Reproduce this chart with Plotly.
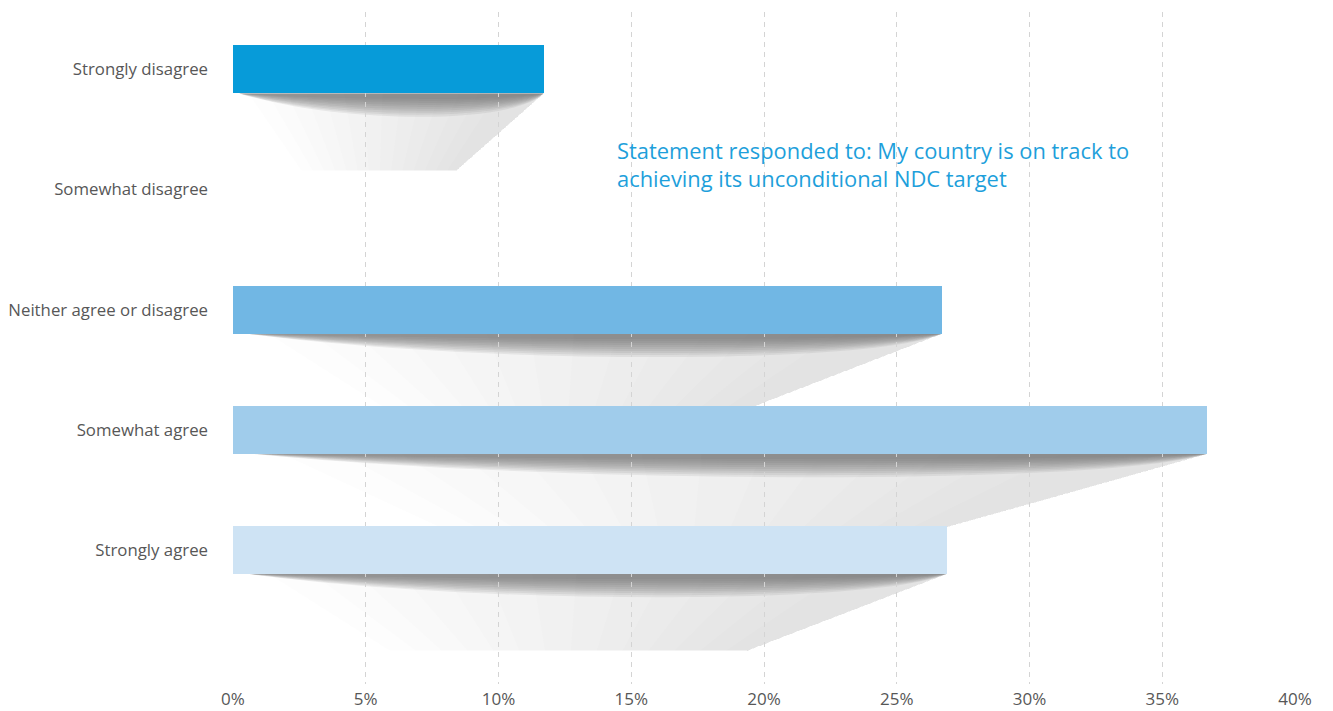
import plotly.graph_objects as go

categories = ["Strongly disagree", "Somewhat disagree", "Neither agree or disagree",
              "Somewhat agree", "Strongly agree"]
values = [11.7, 0.0, 26.7, 36.7, 26.9]
bar_colors = ["#079BD9", "#079BD9", "#71B7E4", "#A0CCEB", "#CEE3F4"]
x_tick_vals = [0, 5, 10, 15, 20, 25, 30, 35, 40]
x_tick_text = ["0%", "5%", "10%", "15%", "20%", "25%", "30%", "35%", "40%"]
note_text = "Statement responded to: My country is on track to<br>achieving its unconditional NDC target"

positions = list(range(len(categories)))
BAR_W = 0.4
FONT = "Open Sans, Noto Sans, sans-serif"

fig = go.Figure()
fig.add_trace(go.Bar(
    x=values, y=positions, orientation="h", width=BAR_W,
    marker=dict(color=bar_colors, line=dict(width=0)),
    hoverinfo="x+y",
))

shapes = []
for pos, v in zip(positions, values):
    if v <= 0:
        continue
    yb = pos + BAR_W / 2
    depth = 0.64
    # light trapezoid shadow with a soft left-to-right gradient (layered)
    n = 14
    for k in range(n):
        f = k / (n - 1)
        lt = v * (0.05 + 0.8 * f)
        lb = v * (0.22 + 0.47 * f)
        shapes.append(dict(
            type="path", xref="x", yref="y", layer="below",
            path=f"M {lt},{yb} L {v},{yb} L {v*0.72},{yb+depth} L {lb},{yb+depth} Z",
            fillcolor="rgba(128,128,128,0.02)", line=dict(width=0),
        ))
    # dark soft shadow directly under the bar
    m = 10
    for k in range(m):
        d = 0.06 + 0.20 * (k / (m - 1))
        shapes.append(dict(
            type="path", xref="x", yref="y", layer="below",
            path=(f"M {v*0.02},{yb} C {v*0.35},{yb+d} {v*0.9},{yb+d} {v},{yb} Z"),
            fillcolor="rgba(100,100,100,0.1)", line=dict(width=0),
        ))

fig.update_layout(
    width=1325, height=703,
    margin=dict(l=225, r=38, t=4, b=27, autoexpand=False),
    paper_bgcolor="white", plot_bgcolor="white",
    showlegend=False,
    bargap=0,
    font=dict(family=FONT, size=17, color="#575757"),
    shapes=shapes,
    xaxis=dict(
        range=[0, 40], tickvals=x_tick_vals, ticktext=x_tick_text,
        showgrid=True, gridcolor="#d4d4d4", gridwidth=1, griddash="5px,5px",
        zeroline=False, showline=False, ticks="", ticklabelstandoff=3,
        automargin=False,
        tickfont=dict(size=17, color="#575757"), fixedrange=True,
    ),
    yaxis=dict(
        range=[5.117, -0.478], tickvals=positions, ticktext=categories,
        showgrid=False, zeroline=False, showline=False, ticks="",
        ticklabelstandoff=24, automargin=False,
        tickfont=dict(size=16.8, color="#575757"), fixedrange=True,
    ),
    annotations=[dict(
        text=note_text, xref="x", yref="paper", x=14.39, y=0.819,
        xanchor="left", yanchor="top", align="left", showarrow=False,
        font=dict(size=21.9, color="#1E9FDB", family=FONT),
    )],
)

fig.write_html("out.html")
